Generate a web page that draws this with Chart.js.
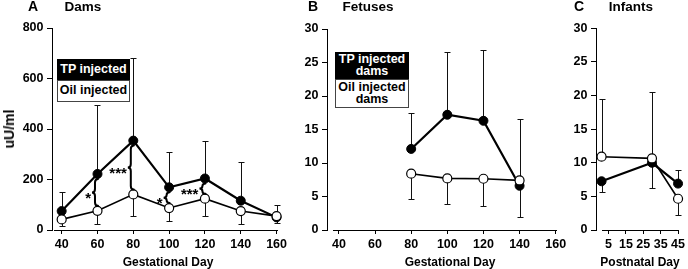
<!DOCTYPE html>
<html>
<head>
<meta charset="utf-8">
<script src="https://cdn.jsdelivr.net/npm/chart.js@4/dist/chart.umd.min.js"></script>
<style>
body { margin: 0; width: 688px; height: 269px; background: #fff; position: relative; overflow: hidden; font-family: "Liberation Sans", Arial, sans-serif; }
.panel { position: absolute; top: 0; height: 269px; }
.lbl { position: absolute; font-weight: bold; white-space: nowrap; transform: translate(-50%, -50%); line-height: 1; color: #000; }
.key { position: absolute; box-sizing: border-box; font-weight: bold; font-size: 12.5px; line-height: 11.5px; text-align: center; display: flex; align-items: center; justify-content: center; }
.key.tp { background: #000; color: #fff; }
.key.oil { background: #fff; color: #000; border: 1.5px solid #444; }
</style>
</head>
<body>
<div class="panel" style="left:0;width:290px"><canvas id="dams" width="290" height="269"></canvas></div>
<div class="panel" style="left:290px;width:280px"><canvas id="fetuses" width="280" height="269"></canvas></div>
<div class="panel" style="left:570px;width:118px"><canvas id="infants" width="118" height="269"></canvas></div>

<div class="lbl" style="left:33px;top:6px;font-size:14px">A</div>
<div class="lbl" style="left:83px;top:6.5px;font-size:13.5px">Dams</div>
<div class="lbl" style="left:313px;top:6px;font-size:14px">B</div>
<div class="lbl" style="left:368px;top:6.5px;font-size:13.5px">Fetuses</div>
<div class="lbl" style="left:579px;top:6px;font-size:14px">C</div>
<div class="lbl" style="left:631px;top:6.5px;font-size:13.5px">Infants</div>

<div class="lbl" style="left:8.5px;top:129px;font-size:14px;transform:translate(-50%,-50%) rotate(-90deg)">uU/ml</div>
<div class="lbl" style="left:168px;top:262px;font-size:12px">Gestational Day</div>
<div class="lbl" style="left:450px;top:262px;font-size:12px">Gestational Day</div>
<div class="lbl" style="left:640px;top:262px;font-size:12px">Postnatal Day</div>

<div class="key tp" style="left:57px;top:59px;width:73px;height:21px">TP injected</div>
<div class="key oil" style="left:57px;top:80px;width:73px;height:22px">Oil injected</div>
<div class="key tp" style="left:335px;top:52px;width:74px;height:27px">TP injected<br>dams</div>
<div class="key oil" style="left:335px;top:79px;width:74px;height:29px">Oil injected<br>dams</div>

<script>
// A: dams, gestational day
const damDays = [40, 60, 80, 100, 120, 140, 160]
const damTP = [75, 222, 354, 169, 204, 116, 50]
const damOil = [42, 76, 141, 87, 124, 75, 55]
const damTPUp = [149, 495, 680, 310, 354, 270, null]
const damTPDown = [null, null, null, null, null, null, 26]
const damOilUp = [null, null, null, null, null, null, 98]
const damOilDown = [16, 24, 57, 37, 57, 24, null]
const damTicks = [40, 60, 80, 100, 120, 140, 160]
const damStarDays = [60, 80, 100, 120]
const damStarText = ['*', '***', '*', '***']

// B: fetuses
const fetusDays = [80, 100, 120, 140]
const fetusTP = [12.1, 17.2, 16.3, 6.6]
const fetusOil = [8.4, 7.7, 7.65, 7.4]
const fetusTPUp = [17.4, 26.5, 26.9, 16.5]
const fetusTPDown = [null, null, null, 2.0]
const fetusOilUp = [null, null, null, null]
const fetusOilDown = [4.7, 3.9, 3.6, null]
const fetusTicks = [40, 60, 80, 100, 120, 140, 160]

// C: infants, postnatal day
const infantDays = [1, 30, 45]
const infantTP = [7.25, 10.0, 6.9]
const infantOil = [10.9, 10.65, 4.65]
const infantTPUp = [null, null, 8.9]
const infantTPDown = [5.6, 6.2, null]
const infantOilUp = [19.5, 20.5, null]
const infantOilDown = [null, null, 2.25]
const infantTicks = [5, 15, 25, 35, 45]

const font = { family: '"Liberation Sans", Arial, sans-serif', size: 12.5, weight: 'bold' }

const errorBars = {
  id: 'errorBars',
  beforeDatasetsDraw(chart) {
    const { ctx, scales: { y } } = chart
    ctx.save()
    ctx.strokeStyle = '#111'
    ctx.lineWidth = 1
    chart.data.datasets.forEach((ds, di) => {
      const meta = chart.getDatasetMeta(di)
      meta.data.forEach((pt, i) => {
        const px = Math.round(pt.x) + 0.5
        ;[ds.up[i], ds.down[i]].forEach(e => {
          if (e == null) return
          const ey = Math.round(y.getPixelForValue(e)) + 0.5
          ctx.beginPath()
          ctx.moveTo(px, pt.y)
          ctx.lineTo(px, ey)
          ctx.moveTo(px - 3, ey)
          ctx.lineTo(px + 3, ey)
          ctx.stroke()
        })
      })
    })
    ctx.restore()
  }
}

const xLine = {
  id: 'xLine',
  afterDraw(chart, args, opts) {
    const { ctx, chartArea, scales: { x } } = chart
    const yy = Math.round(chartArea.bottom) + 0.5
    ctx.save()
    ctx.strokeStyle = '#000'
    ctx.lineWidth = 1
    ctx.beginPath()
    ctx.moveTo(Math.round(x.getPixelForValue(opts.from)), yy)
    ctx.lineTo(Math.round(chartArea.right) + 1, yy)
    ctx.stroke()
    ctx.restore()
  }
}

// curly braces with asterisks between the two series
const stars = {
  id: 'stars',
  afterDatasetsDraw(chart, args, opts) {
    if (!opts.days) return
    const { ctx, scales: { x, y } } = chart
    const tp = chart.data.datasets[0], oil = chart.data.datasets[1]
    ctx.save()
    ctx.strokeStyle = '#000'
    ctx.fillStyle = '#000'
    ctx.lineWidth = 2
    ctx.lineCap = 'round'
    ctx.font = 'bold 15px "Liberation Sans", Arial, sans-serif'
    ctx.textAlign = 'right'
    opts.days.forEach((d, k) => {
      const i = tp.data.findIndex(p => p.x === d)
      const px = x.getPixelForValue(d)
      const top = y.getPixelForValue(tp.data[i].y) + 5
      const bot = y.getPixelForValue(oil.data[i].y) - 5
      const mid = (top + bot) / 2
      const xr = px + 0.5, xm = px - 2.5, xl = px - 5.5
      const r = Math.min(3.5, (bot - top) / 4)
      ctx.beginPath()
      ctx.moveTo(xr, top)
      ctx.quadraticCurveTo(xm, top, xm, top + r)
      ctx.lineTo(xm, mid - r)
      ctx.quadraticCurveTo(xm, mid, xl, mid)
      ctx.quadraticCurveTo(xm, mid, xm, mid + r)
      ctx.lineTo(xm, bot - r)
      ctx.quadraticCurveTo(xm, bot, xr, bot)
      ctx.stroke()
      ctx.fillText(opts.text[k], px - 6.5, mid + 10.5)
    })
    ctx.restore()
  }
}

function panel(id, o) {
  const pts = vals => o.days.map((d, i) => ({ x: d, y: vals[i] }))
  return new Chart(document.getElementById(id), {
    type: 'line',
    data: {
      datasets: [{
        label: 'TP injected',
        data: pts(o.tp),
        up: o.tpUp,
        down: o.tpDown,
        borderColor: '#000',
        borderWidth: 2.2,
        pointRadius: 4.5,
        pointHoverRadius: 4.5,
        pointBackgroundColor: '#000',
        pointBorderColor: '#000',
        pointBorderWidth: 1,
        order: 2,
        clip: false
      },
      {
        label: 'Oil injected',
        data: pts(o.oil),
        up: o.oilUp,
        down: o.oilDown,
        borderColor: '#000',
        borderWidth: 1.6,
        pointRadius: 4.5,
        pointHoverRadius: 4.5,
        pointBackgroundColor: '#fff',
        pointBorderColor: '#000',
        pointBorderWidth: 1.2,
        order: 1,
        clip: false
      }]
    },
    options: {
      responsive: false,
      animation: false,
      events: [],
      layout: { padding: { top: o.top, right: o.right, bottom: 0, left: 0 } },
      plugins: {
        legend: { display: false },
        tooltip: { enabled: false },
        xLine: { from: o.lineFrom },
        stars: { days: o.starDays, text: o.starText }
      },
      scales: {
        x: {
          type: 'linear',
          min: o.xMin,
          max: o.xMax,
          afterBuildTicks: s => { s.ticks = o.xTicks.map(v => ({ value: v })) },
          afterFit: s => { s.height = 39 },
          border: { display: false },
          grid: { display: true, drawOnChartArea: false, color: '#000', tickLength: 4 },
          ticks: { color: '#000', font: font, padding: 3, autoSkip: false, maxRotation: 0 }
        },
        y: {
          min: 0,
          max: o.yMax,
          afterFit: s => { s.width = o.yWidth },
          border: { display: true, color: '#000', width: 1 },
          grid: { display: true, drawOnChartArea: false, color: '#000', tickLength: 5 },
          ticks: { color: '#000', font: font, padding: 3.5, stepSize: o.yStep }
        }
      }
    },
    plugins: [errorBars, xLine, stars]
  })
}

panel('dams', {
  days: damDays, tp: damTP, oil: damOil,
  tpUp: damTPUp, tpDown: damTPDown, oilUp: damOilUp, oilDown: damOilDown,
  xMin: 34.6, xMax: 160, lineFrom: 35.5, xTicks: damTicks,
  yMax: 800, yStep: 200, yWidth: 52, top: 28, right: 11.7,
  starDays: damStarDays, starText: damStarText
})

panel('fetuses', {
  days: fetusDays, tp: fetusTP, oil: fetusOil,
  tpUp: fetusTPUp, tpDown: fetusTPDown, oilUp: fetusOilUp, oilDown: fetusOilDown,
  xMin: 33.4, xMax: 160, lineFrom: 36.8, xTicks: fetusTicks,
  yMax: 30, yStep: 5, yWidth: 37, top: 29, right: 14.3
})

panel('infants', {
  days: infantDays, tp: infantTP, oil: infantOil,
  tpUp: infantTPUp, tpDown: infantTPDown, oilUp: infantOilUp, oilDown: infantOilDown,
  xMin: -2.2, xMax: 45, lineFrom: 1, xTicks: infantTicks,
  yMax: 30, yStep: 5, yWidth: 26, top: 28.3, right: 8
})
</script>
</body>
</html>
